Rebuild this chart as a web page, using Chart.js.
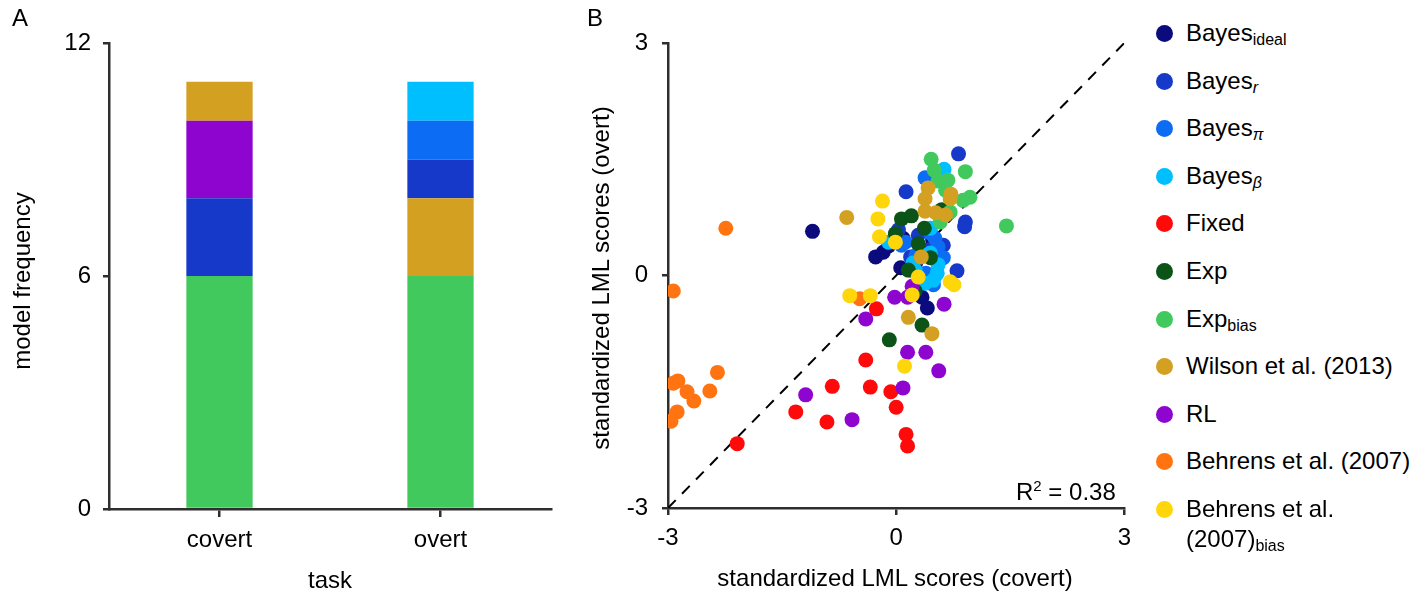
<!DOCTYPE html>
<html>
<head>
<meta charset="utf-8">
<script src="https://cdn.jsdelivr.net/npm/chart.js@4.4.1/dist/chart.umd.min.js"></script>
<style>
  html, body { margin:0; padding:0; background:#fff; }
  body { width:1428px; height:594px; position:relative; overflow:hidden;
         font-family:"Liberation Sans", Arial, Helvetica, sans-serif; color:#000; }
  .abs { position:absolute; white-space:nowrap; }
  #wrapA { position:absolute; left:0; top:0; width:580px; height:594px; }
  #wrapB { position:absolute; left:580px; top:0; width:560px; height:594px; }
  .lg-row { position:absolute; left:1156px; height:30px; font-size:24px; line-height:30px; white-space:nowrap; }
  .lg-dot { position:absolute; left:0; top:7px; width:17px; height:17px; border-radius:50%; }
  .lg-txt { position:absolute; left:30px; top:0; }
  .lg-txt sub { font-size:16px; vertical-align:-4px; line-height:0; }
</style>
</head>
<body>
<div id="wrapA"><canvas id="barChart" width="580" height="594"></canvas></div>
<div id="wrapB"><canvas id="scatterChart" width="560" height="594"></canvas></div>

<div class="abs" style="left:12px;top:4px;font-size:24px;">A</div>
<div class="abs" style="left:587px;top:4px;font-size:24px;">B</div>
<div class="abs" style="left:22px;top:281px;font-size:24px;transform:translate(-50%,-50%) rotate(-90deg);">model frequency</div>
<div class="abs" style="left:330px;top:580px;font-size:24px;transform:translate(-50%,-50%);">task</div>
<div class="abs" style="left:601px;top:278px;font-size:24px;transform:translate(-50%,-50%) rotate(-90deg);">standardized LML scores (overt)</div>
<div class="abs" style="left:895px;top:578px;font-size:24px;transform:translate(-50%,-50%);">standardized LML scores (covert)</div>
<div class="abs" style="left:1016px;top:478px;font-size:24px;">R<sup style="font-size:15px;vertical-align:9px;line-height:0;">2</sup> = 0.38</div>

<div id="legend"></div>

<script>
// ---------- Panel A: model frequency (stacked bars) ----------
const barCategories = ['covert', 'overt'];
const barExpBias    = [6, 6];
const barWilsonLow  = [0, 2];
const barBayesR     = [2, 1];
const barRL         = [2, 0];
const barBayesPi    = [0, 1];
const barBayesBeta  = [0, 1];
const barWilsonTop  = [1, 0];
const barTicks      = [0, 6, 12];

// ---------- Panel B: standardized LML scores [covert, overt] ----------
const modelNames = ['Bayes_ideal','Bayes_r','Bayes_pi','Bayes_beta','Fixed','Exp','Exp_bias',
                    'Wilson et al. (2013)','RL','Behrens et al. (2007)','Behrens et al. (2007)_bias'];
const modelColors = ['#0b0b7d','#1739c9','#0c6cf4','#00bfff','#ff0a0a','#0b5317','#42c95d',
                     '#d4a022','#8e05d0','#ff7411','#ffd60a'];

const bayesIdeal = [[-1.10,0.57],[-0.27,0.24],[-0.17,0.30],[0.06,0.10],[0.55,0.16],[0.34,-0.28],
                    [0.41,-0.42],[0.09,0.48],[-0.10,0.38],[0.48,0.46],[0.26,0.17]];
const bayesR     = [[0.82,1.57],[0.13,1.08],[0.91,0.69],[0.90,0.63],[0.80,0.06],[0.19,0.24],
                    [0.42,0.33],[0.29,0.52],[0.62,0.39],[0.03,0.59],[0.52,0.01]];
const bayesPi    = [[0.38,1.26],[0.12,0.43],[0.51,0.48],[0.55,0.37],[0.45,0.55],[0.39,0.03],
                    [0.07,0.39],[0.62,0.23],[0.49,-0.12],[0.26,0.26],[0.19,0.07]];
const bayesBeta  = [[0.63,1.37],[0.45,0.61],[0.45,0.29],[0.22,0.16],[0.25,0.07],[0.54,0.03],
                    [0.49,-0.06],[0.38,-0.10],[-0.10,0.43],[0.35,0.26],[0.55,0.14]];
const fixed      = [[-2.09,-2.17],[-1.32,-1.76],[-0.91,-1.89],[-0.84,-1.43],[-0.40,-1.09],[-0.34,-1.44],
                    [-0.07,-1.50],[0.00,-1.70],[0.13,-2.05],[0.15,-2.20],[-0.26,-0.43]];
const exp        = [[-0.09,-0.83],[0.34,-0.64],[0.37,0.61],[-0.01,0.54],[0.29,0.41],[0.07,0.73],
                    [0.20,0.77],[0.60,0.85],[0.25,-0.20],[0.16,0.07],[0.45,0.23]];
const expBias    = [[0.46,1.50],[0.50,1.36],[0.91,1.34],[0.55,1.22],[0.68,1.23],[0.88,0.97],
                    [0.97,1.01],[1.45,0.64],[0.71,0.82],[0.58,0.69],[0.65,1.10]];
const wilson     = [[-0.65,0.75],[0.42,1.13],[0.38,0.99],[0.72,1.05],[0.71,0.99],[0.38,0.83],
                    [0.52,0.81],[0.65,0.78],[0.33,0.24],[0.16,-0.54],[0.47,-0.75]];
const rl         = [[-1.19,-1.54],[-0.58,-1.86],[0.15,-0.99],[0.39,-0.99],[0.56,-1.23],[0.09,-1.45],
                    [-0.40,-0.56],[0.63,-0.37],[-0.02,-0.28],[0.15,-0.28],[0.21,-0.14]];
const behrens    = [[-2.24,0.61],[-2.93,-0.20],[-2.35,-1.25],[-2.87,-1.36],[-2.93,-1.39],[-2.75,-1.50],
                    [-2.45,-1.49],[-2.66,-1.62],[-2.88,-1.76],[-2.96,-1.88],[-0.48,-0.30]];
const behrensBias= [[-0.18,0.96],[-0.24,0.73],[-0.22,0.50],[-0.01,0.43],[0.29,-0.02],[0.71,-0.08],
                    [0.76,-0.12],[-0.61,-0.26],[-0.34,-0.26],[0.21,-0.25],[0.11,-1.17]];
const scatterSeries = [bayesIdeal, bayesR, bayesPi, bayesBeta, fixed, exp, expBias, wilson, rl, behrens, behrensBias];
const identityLine = [-3, 3];
const scatterTicks = [-3, 0, 3];

// legend display text (base + subscript)
const legendBase = ['Bayes','Bayes','Bayes','Bayes','Fixed','Exp','Exp','Wilson et al. (2013)','RL',
                    'Behrens et al. (2007)','Behrens et al.<br>(2007)'];
const legendSub  = ['ideal','<i>r</i>','<i>π</i>','<i>β</i>','','','bias','','','','bias'];

const FONT = '"Liberation Sans", Arial, Helvetica, sans-serif';
const AXIS = '#2e2e2e';

// ---------- bar chart ----------
const c = modelColors;
const barDatasets = [
  { label:'Exp_bias', data: barExpBias, backgroundColor: c[6] },
  { label:'Wilson et al. (2013)', data: barWilsonLow, backgroundColor: c[7] },
  { label:'Bayes_r', data: barBayesR, backgroundColor: c[1] },
  { label:'RL', data: barRL, backgroundColor: c[8] },
  { label:'Bayes_pi', data: barBayesPi, backgroundColor: c[2] },
  { label:'Bayes_beta', data: barBayesBeta, backgroundColor: c[3] },
  { label:'Wilson et al. (2013) ', data: barWilsonTop, backgroundColor: c[7] }
].map(d => Object.assign(d, { barPercentage:0.3, categoryPercentage:1.0, borderWidth:0 }));

new Chart(document.getElementById('barChart'), {
  type: 'bar',
  data: { labels: barCategories, datasets: barDatasets },
  options: {
    responsive:false, animation:false, devicePixelRatio:1,
    layout: { padding: { left:0, top:43, right:29, bottom:40 } },
    plugins: { legend:{display:false}, tooltip:{enabled:false} },
    scales: {
      x: {
        stacked:true,
        grid: { display:true, drawOnChartArea:false, offset:false, tickLength:8, lineWidth:2.5, color:AXIS },
        border: { display:true, color:AXIS, width:2.5 },
        ticks: { color:'#000', font:{ family:FONT, size:24 }, padding:9 },
        afterFit: s => { s.height = 45; }
      },
      y: {
        stacked:true, min:0, max:12,
        afterBuildTicks: s => { s.ticks = barTicks.map(v => ({ value:v })); },
        grid: { display:true, drawOnChartArea:false, tickLength:6, lineWidth:2.5, color:AXIS },
        border: { display:true, color:AXIS, width:2.5 },
        ticks: { color:'#000', font:{ family:FONT, size:24 }, padding:12 },
        afterFit: s => { s.width = 109; }
      }
    }
  }
});

// ---------- scatter chart ----------
const scatterDatasets = scatterSeries.map((pts, i) => ({
  type:'scatter',
  label: modelNames[i],
  data: pts.map(p => ({ x:p[0], y:p[1] })),
  backgroundColor: modelColors[i],
  borderWidth:0,
  pointRadius:7.5,
  pointHoverRadius:7.5,
  order: scatterSeries.length - i
}));
scatterDatasets.push({
  type:'line',
  label:'identity',
  data: identityLine.map(v => ({ x:v, y:v })),
  borderColor:'#000', borderWidth:2, borderDash:[11,9],
  pointRadius:0, fill:false, order:100
});

new Chart(document.getElementById('scatterChart'), {
  type: 'scatter',
  data: { datasets: scatterDatasets },
  options: {
    responsive:false, animation:false, devicePixelRatio:1,
    layout: { padding: { left:0, top:43, right:9, bottom:41 } },
    plugins: { legend:{display:false}, tooltip:{enabled:false} },
    scales: {
      x: {
        type:'linear', min:-3, max:3,
        afterBuildTicks: s => { s.ticks = scatterTicks.map(v => ({ value:v })); },
        grid: { display:true, drawOnChartArea:false, tickLength:7, lineWidth:2.5, color:AXIS },
        border: { display:true, color:AXIS, width:2.5 },
        ticks: { color:'#000', font:{ family:FONT, size:24 }, padding:9 },
        afterFit: s => { s.height = 45; }
      },
      y: {
        type:'linear', min:-3, max:3,
        afterBuildTicks: s => { s.ticks = scatterTicks.map(v => ({ value:v })); },
        grid: { display:true, drawOnChartArea:false, tickLength:6, lineWidth:2.5, color:AXIS },
        border: { display:true, color:AXIS, width:2.5 },
        ticks: { color:'#000', font:{ family:FONT, size:24 }, padding:14 },
        afterFit: s => { s.width = 88; }
      }
    }
  }
});

// ---------- legend ----------
const legendRowY = 33, legendStep = 47.6;
const lg = document.getElementById('legend');
modelNames.forEach((name, i) => {
  const row = document.createElement('div');
  row.className = 'lg-row';
  row.style.top = (legendRowY + i * legendStep - 15) + 'px';
  const sub = legendSub[i] ? '<sub>' + legendSub[i] + '</sub>' : '';
  row.innerHTML = '<span class="lg-dot" style="background:' + modelColors[i] + '"></span>' +
                  '<span class="lg-txt">' + legendBase[i] + sub + '</span>';
  lg.appendChild(row);
});
</script>
</body>
</html>
